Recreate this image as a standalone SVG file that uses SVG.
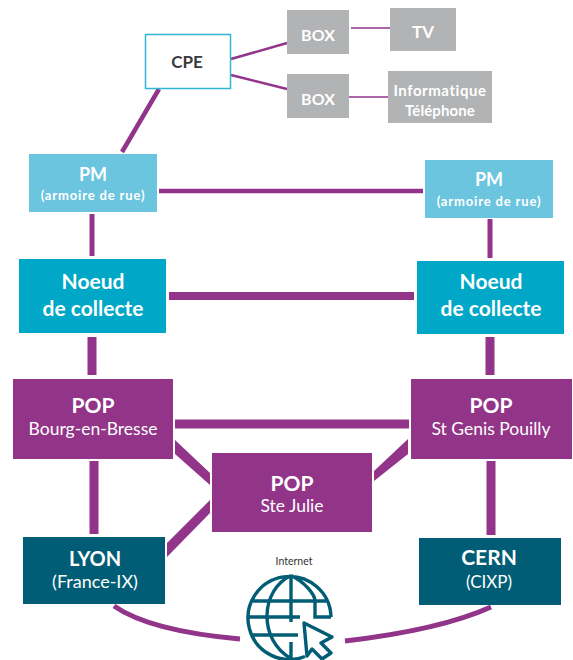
<svg xmlns="http://www.w3.org/2000/svg" width="573" height="660" viewBox="0 0 573 660">
<style>
text{font-family:"Lato","Noto Sans","Liberation Sans",sans-serif;text-anchor:middle}
.c{fill:none;stroke:#92358a}
.d{fill:#92358a}
.b{font-weight:700}
.gr rect{fill:#b2b3b4}
.gr text{fill:#fff;font-weight:700}
.pm rect{fill:#6bc5df}
.nc rect{fill:#00a7c6}
.pop rect{fill:#923588}
.dc rect{fill:#005d75}
.pm text,.nc text,.pop text,.dc text{fill:#fff}
.l{fill:#f3e6f1;font-size:17.500px}
.g{fill:none;stroke:#005d75;stroke-width:3.400}
</style>
<rect width="573" height="660" fill="#fff"/>
<g id="connectors">
<path class="c" stroke-width="2.500" d="M231 59L287 43M231 75L287 89"/>
<path class="c" stroke-width="1.500" d="M351 28H390M349 97H388"/>
<path class="c" stroke-width="4.500" d="M159 89L122 152"/>
<path class="c" stroke-width="4.500" d="M159 191H423"/>
<path class="c" stroke-width="5" d="M92 214V256M490 219V258"/>
<path class="c" stroke-width="8" d="M169 296H414"/>
<path class="c" stroke-width="9" d="M175 424H409M92 337V375M490 337V375M94 461V534M491 461V535"/>
<path class="d" d="M175 440L210 473V485L175 454ZM374 471L408 439V454L374 481ZM210 500V513L167 557V543Z"/>
<path class="c" stroke-width="5" d="M114 606Q150 631 240 639M345 641Q440 630 491 607"/>
</g>
<g id="cpe"><rect x="145.500" y="34.500" width="85" height="54" fill="#fff" stroke="#2fb6d3" stroke-width="1.500"/><text class="b" x="187" y="68" font-size="17" fill="#3a3a3c">CPE</text></g>
<g id="box1" class="gr"><rect x="287" y="10" width="62" height="44"/><text x="318" y="41" font-size="16">BOX</text></g>
<g id="tv" class="gr"><rect x="390" y="8" width="66" height="43"/><text x="423" y="38" font-size="17">TV</text></g>
<g id="box2" class="gr"><rect x="287" y="74" width="62" height="44"/><text x="318" y="105" font-size="16">BOX</text></g>
<g id="info" class="gr"><rect x="388" y="71" width="104" height="52"/><text x="440" y="96" font-size="15" letter-spacing=".55">Informatique</text><text x="440" y="116" font-size="15" letter-spacing=".1">Téléphone</text></g>
<g id="pm-left" class="pm"><rect x="29" y="154" width="128" height="58"/><text class="b" x="93" y="181" font-size="18">PM</text><text class="b" x="93" y="200" font-size="13" letter-spacing=".85">(armoire de rue)</text></g>
<g id="pm-right" class="pm"><rect x="425" y="160" width="128" height="58"/><text class="b" x="489" y="186" font-size="18">PM</text><text class="b" x="489" y="206" font-size="13" letter-spacing=".85">(armoire de rue)</text></g>
<g id="nc-left" class="nc"><rect x="19" y="259" width="147" height="74"/><text class="b" x="93" y="289" font-size="21">Noeud</text><text class="b" x="93" y="316" font-size="21">de collecte</text></g>
<g id="nc-right" class="nc"><rect x="417" y="261" width="147" height="73"/><text class="b" x="491" y="289" font-size="21">Noeud</text><text class="b" x="491" y="316" font-size="21">de collecte</text></g>
<g id="pop-bourg" class="pop"><rect x="13" y="379" width="160" height="80"/><text class="b" x="93" y="413" font-size="21">POP</text><text class="l" x="93" y="435">Bourg-en-Bresse</text></g>
<g id="pop-genis" class="pop"><rect x="411" y="379" width="161" height="80"/><text class="b" x="491" y="413" font-size="21">POP</text><text class="l" x="491" y="435">St Genis Pouilly</text></g>
<g id="pop-julie" class="pop"><rect x="212" y="453" width="160" height="79"/><text class="b" x="292" y="491" font-size="21">POP</text><text class="l" x="292" y="512">Ste Julie</text></g>
<g id="lyon" class="dc"><rect x="23" y="537" width="142" height="67"/><text class="b" x="95" y="566" font-size="20">LYON</text><text x="95" y="588" font-size="18">(France-IX)</text></g>
<g id="cern" class="dc"><rect x="419" y="538" width="142" height="67"/><text class="b" x="489" y="565" font-size="21">CERN</text><text x="489" y="588" font-size="17">(CIXP)</text></g>
<g id="internet">
<text x="294" y="565" font-size="10.500" fill="#333">Internet</text>
<path class="g" d="M331 617A41.500 41.500 0 1 0 305 656.500M331 617H315V601M253 601H328M249 617H300M253 635H298M291 575.500V622M291 642V658.500M291 575.500C260 590 258 640 291 658.500M291 575.500C305 582 315 595 315 601"/>
<path d="M304 623L332 637L321 643L331 653L322 659L312 649L307 656Z" fill="#fff" stroke="#005d75" stroke-width="3.400" stroke-linejoin="round"/>
</g>
</svg>
